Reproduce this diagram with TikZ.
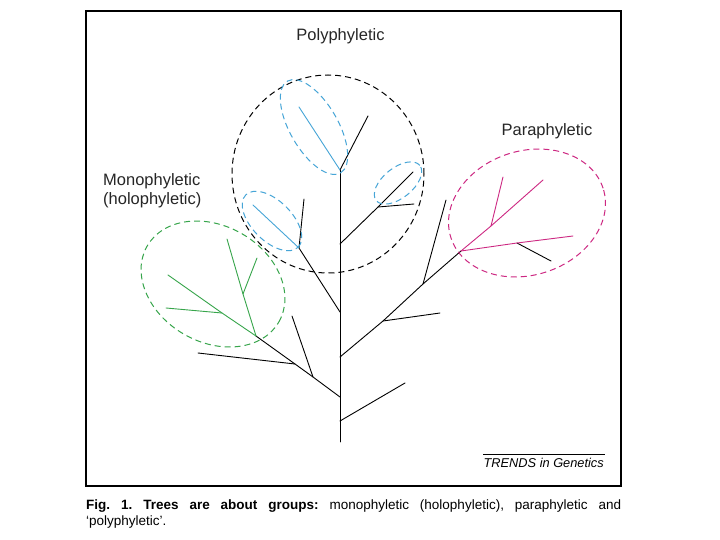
\documentclass[tikz,border=0pt]{standalone}
\usepackage{fontspec}
\setmainfont{Liberation Sans}
\definecolor{polyblue}{RGB}{70,165,215}
\definecolor{monogreen}{RGB}{55,165,75}
\definecolor{parapink}{RGB}{205,40,130}
\begin{document}
\frenchspacing
\begin{tikzpicture}[x=1pt,y=-1pt,
  branch/.style={line width=0.9pt, line cap=round},
  grp/.style={line width=1pt, dash pattern=on 6pt off 4pt},
  lbl/.style={inner sep=0pt, font=\fontsize{16.5}{19}\selectfont, text=black!85}]
\useasboundingbox (0,0) rectangle (720,540);
\fill[white] (0,0) rectangle (720,540);
\draw[line width=1.3pt] (86,11) rectangle (621,486);

% trunk junctions
\coordinate (root) at (340,442);
\coordinate (t1) at (340,421);
\coordinate (t2) at (340,397);
\coordinate (t3) at (340,357);
\coordinate (t4) at (340,312);
\coordinate (t5) at (340,244);
\coordinate (t6) at (340,170);
% top
\coordinate (top1) at (299,107);
\coordinate (top2) at (368,116);
% upper right
\coordinate (u1) at (378,207);
\coordinate (u1e) at (413,172);
\coordinate (u1b) at (414,204);
% left
\coordinate (l1) at (299,248);
\coordinate (l1a) at (253,205);
\coordinate (l1b) at (304,199);
% lower left
\coordinate (a1) at (313,377);
\coordinate (a1e) at (292,316);
\coordinate (a2) at (295,364);
\coordinate (a2e) at (198,353);
\coordinate (g) at (256,336);
\coordinate (g1) at (243,294);
\coordinate (g1e) at (227,239);
\coordinate (g1b) at (257,258);
\coordinate (g2) at (222,313);
\coordinate (g2e) at (168,275);
\coordinate (g2b) at (166,308);
% lower right
\coordinate (r1) at (383,321);
\coordinate (r1e) at (440,313);
\coordinate (r2) at (423,284);
\coordinate (r2e) at (446,200);
\coordinate (pk) at (461,251);
\coordinate (pk1) at (517,243);
\coordinate (pk1e) at (573,236);
\coordinate (pk1b) at (551,261);
\coordinate (pk2) at (491,226);
\coordinate (pk2e) at (543,180);
\coordinate (pk2b) at (503,177);
\coordinate (t1e) at (405,383);

% black branches
\draw[branch] (root) -- (t6);
\draw[branch] (t6) -- (top2);
\draw[branch] (t5) -- (u1) -- (u1e);
\draw[branch] (u1) -- (u1b);
\draw[branch] (t4) -- (l1) -- (l1b);
\draw[branch] (t2) -- (a1) -- (a2) -- (g);
\draw[branch] (a1) -- (a1e);
\draw[branch] (a2) -- (a2e);
\draw[branch] (t3) -- (r1) -- (r2) -- (pk);
\draw[branch] (r1) -- (r1e);
\draw[branch] (r2) -- (r2e);
\draw[branch] (t1) -- (t1e);
\draw[branch] (pk1) -- (pk1b);
% coloured branches
\draw[branch, polyblue] (t6) -- (top1);
\draw[branch, polyblue] (l1) -- (l1a);
\draw[branch, monogreen] (g) -- (g1) -- (g1e);
\draw[branch, monogreen] (g1) -- (g1b);
\draw[branch, monogreen] (g) -- (g2) -- (g2e);
\draw[branch, monogreen] (g2) -- (g2b);
\draw[branch, parapink] (pk) -- (pk1) -- (pk1e);
\draw[branch, parapink] (pk) -- (pk2) -- (pk2e);
\draw[branch, parapink] (pk2) -- (pk2b);

% group outlines
\draw[grp] (328,174) ellipse [x radius=96pt, y radius=99pt];
\draw[grp, polyblue, rotate around={-60:(314,127)}] (314,127) ellipse [x radius=53pt, y radius=24pt];
\draw[grp, polyblue, rotate around={39:(398,183)}] (398,183) ellipse [x radius=28pt, y radius=15pt];
\draw[grp, polyblue, rotate around={-45:(272,221)}] (272,221) ellipse [x radius=37pt, y radius=20pt];
\draw[grp, monogreen, rotate around={-30:(213,284)}] (213,284) ellipse [x radius=76pt, y radius=58pt];
\draw[grp, parapink, rotate around={18:(527,213)}] (527,213) ellipse [x radius=80pt, y radius=62pt];

% labels
\node[lbl, anchor=base] (poly) at (340.5,40.7) {Polyphyletic};
\node[lbl, anchor=base west] (mono1) at (103,186) {Monophyletic};
\node[lbl, anchor=base west] (mono2) at (103,205) {(holophyletic)};
\node[lbl, anchor=base] (para) at (547,136) {Paraphyletic};

% source line
\draw[line width=0.8pt] (483,454) -- (605,454);
\node[inner sep=0pt, anchor=base east, font=\fontsize{12.8}{15}\selectfont\itshape] (src) at (604,467) {TRENDS in Genetics};

% caption
\node[inner sep=0pt, anchor=north west, text width=535pt, align=justify,
  font=\fontsize{13.5}{16}\selectfont\frenchspacing] (cap) at (86,500)
  {\textbf{Fig. 1. Trees are about groups:} monophyletic (holophyletic), paraphyletic and\linebreak ‘polyphyletic’.};
\end{tikzpicture}
\end{document}
